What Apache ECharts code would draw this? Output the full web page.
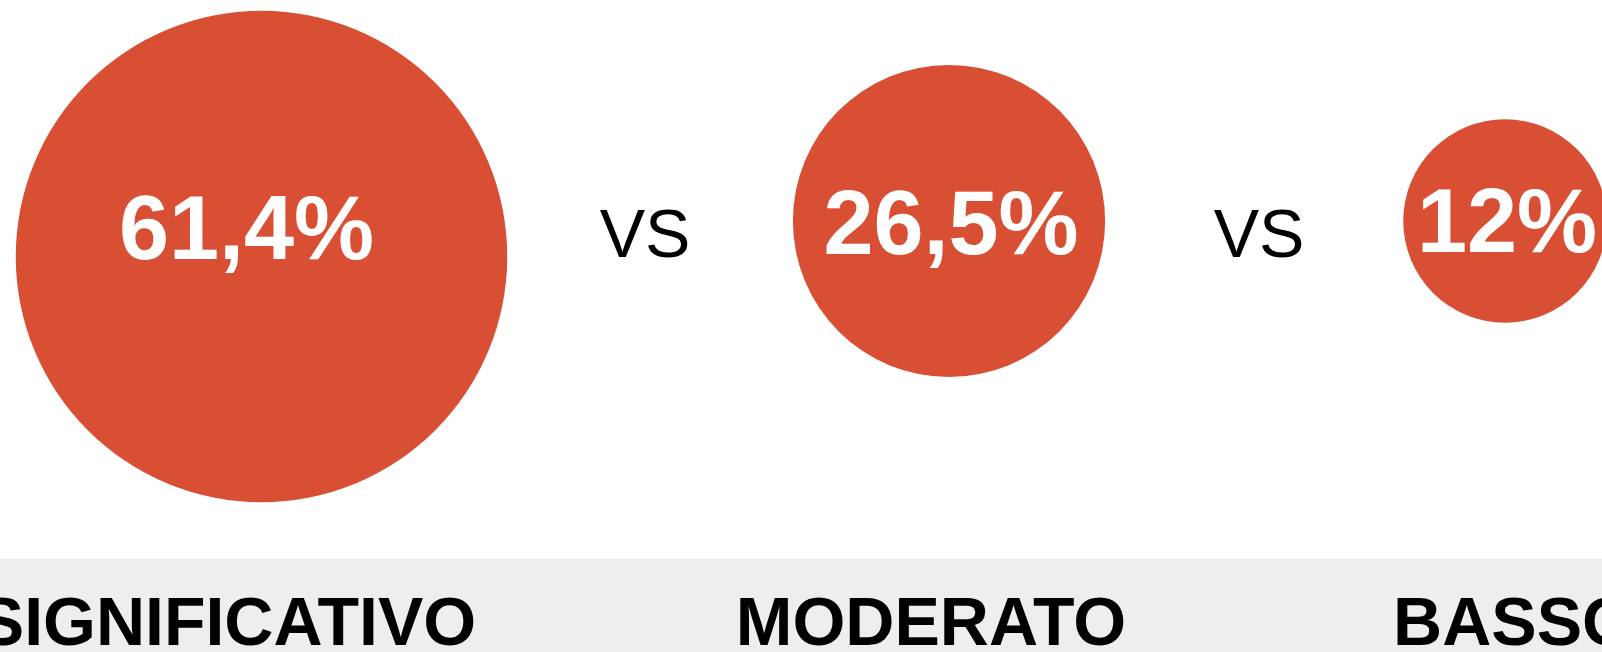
<!DOCTYPE html>
<html>
<head>
<meta charset="utf-8">
<script src="https://cdn.jsdelivr.net/npm/echarts@6/dist/echarts.min.js"></script>
<style>
  html, body { margin: 0; padding: 0; background: #fff; }
  #main { width: 1602px; height: 652px; }
</style>
</head>
<body>
<div id="main"></div>
<script>
// dati
var categories = ['SIGNIFICATIVO', 'MODERATO', 'BASSO'];
var values = [61.4, 26.5, 12];
var vsText = 'VS';

var red = '#d94f34';
var font = "'Liberation Sans', Arial, sans-serif";

// una griglia per ogni cerchio
var grids = [
    { left: 161.5, top: 0, width: 200, height: 513, outerBoundsMode: 'none', containLabel: false },
    { left: 849, top: 0, width: 200, height: 442, outerBoundsMode: 'none', containLabel: false },
    { left: 1405, top: 0, width: 200, height: 442, outerBoundsMode: 'none', containLabel: false }
];
var labelMargins = [79, 150, 150];
var labelPadding = [[0, 68, 0, 0], [0, 36, 0, 0], [0, 0, 0, 18]];
var labelOffsets = [[-15, -22], [2, 8], [2, 6]];

function fmt(v) {
    return String(v).replace('.', ',') + '%';
}

var xAxes = [], yAxes = [], series = [];
categories.forEach(function (c, i) {
    xAxes.push({
        type: 'category',
        gridIndex: i,
        data: [c],
        axisLine: { show: false },
        axisTick: { show: false },
        axisLabel: {
            interval: 0,
            hideOverlap: false,
            margin: labelMargins[i],
            color: '#000',
            fontSize: 68,
            fontWeight: 'bold',
            fontFamily: font,
            padding: labelPadding[i]
        }
    });
    yAxes.push({ type: 'value', gridIndex: i, min: -1, max: 1, show: false });
    series.push({
        type: 'scatter',
        xAxisIndex: i,
        yAxisIndex: i,
        data: [[c, 0, values[i]]],
        symbol: 'circle',
        symbolSize: function (d) { return 53.2 * Math.pow(d[2], 0.54); },
        itemStyle: { color: red, opacity: 1 },
        label: {
            show: true,
            position: 'inside',
            offset: labelOffsets[i],
            formatter: function (p) { return fmt(p.value[2]); },
            color: '#fff',
            fontSize: 90,
            fontWeight: 'bold',
            fontFamily: font
        },
        emphasis: { disabled: true }
    });
});

var myChart = echarts.init(document.getElementById('main'));
myChart.setOption({
    backgroundColor: '#fff',
    animation: false,
    grid: grids,
    xAxis: xAxes,
    yAxis: yAxes,
    graphic: [
        {
            type: 'rect', z: -10, silent: true,
            shape: { x: 0, y: 559, width: 1602, height: 93 },
            style: { fill: '#eeeeee' }
        },
        {
            type: 'text', x: 645, y: 238,
            style: { text: vsText, fill: '#000', font: '68px ' + font, textAlign: 'center', textVerticalAlign: 'middle' }
        },
        {
            type: 'text', x: 1259, y: 238,
            style: { text: vsText, fill: '#000', font: '68px ' + font, textAlign: 'center', textVerticalAlign: 'middle' }
        }
    ],
    series: series
});
</script>
</body>
</html>
